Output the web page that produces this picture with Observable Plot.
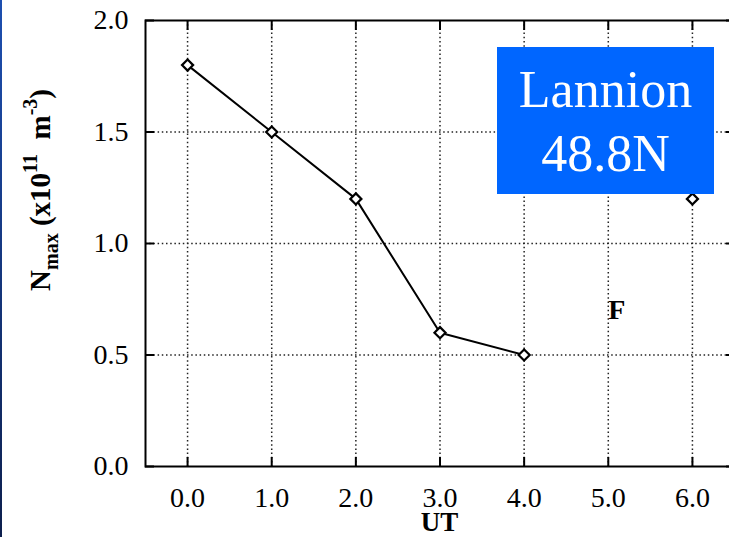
<!DOCTYPE html>
<html>
<head>
<meta charset="utf-8">
<script src="https://cdn.jsdelivr.net/npm/d3@7"></script>
<script src="https://cdn.jsdelivr.net/npm/@observablehq/plot@0.6"></script>
<style>
  html, body { margin: 0; padding: 0; background: #fff; }
  #wrap { position: relative; width: 729px; height: 537px; overflow: hidden; }
  #edge { position: absolute; left: 0; top: 0; width: 2px; height: 537px;
          background: linear-gradient(#1d4fb0, #0d1f4d); }
  #box { position: absolute; left: 497px; top: 47px; width: 217px; height: 147px;
         background: #0066ff; color: #fff; font-family: "Liberation Serif", "Times New Roman", serif;
         font-size: 52px; text-align: center; line-height: 64px; padding-top: 11px; box-sizing: border-box; }
</style>
</head>
<body>
<div id="wrap"><div id="edge"></div></div>
<script>
// Data
const utHours   = [0.0, 1.0, 2.0, 3.0, 4.0];
const nmaxLine  = [1.8, 1.5, 1.2, 0.6, 0.5];
const utSingle  = [6.0];
const nmaxSingle = [1.2];
const xTicks = [0, 1, 2, 3, 4, 5, 6];
const yTicks = [0, 0.5, 1.0, 1.5, 2.0];
const yGrid = [0.5, 1.0, 1.5];
const noteLabels = ["F"];
const noteUT = [5.0];
const noteN = [0.70];
const boxLines = ["Lannion", "48.8N"];
const xLabel = "UT";

const lineData = utHours.map((u, i) => ({ut: u, n: nmaxLine[i]}));
const singleData = utSingle.map((u, i) => ({ut: u, n: nmaxSingle[i]}));
const noteData = noteLabels.map((t, i) => ({ut: noteUT[i], n: noteN[i], t}));
const fmt = d3.format(".1f");
const serif = "'Liberation Serif', 'Times New Roman', serif";

const chart = Plot.plot({
  width: 729,
  height: 537,
  marginLeft: 145,
  marginRight: -5,
  marginTop: 20,
  marginBottom: 71,
  style: {fontFamily: serif, background: "transparent", color: "#000"},
  x: {domain: [-0.5, 6.5]},
  y: {domain: [0, 2]},
  marks: [
    Plot.gridX(xTicks, {stroke: "#222", strokeOpacity: 1, strokeWidth: 1.5, strokeDasharray: "1.5,2.7"}),
    Plot.gridY(yGrid, {stroke: "#222", strokeOpacity: 1, strokeWidth: 1.5, strokeDasharray: "1.5,2.7"}),
    Plot.frame({stroke: "#000", strokeWidth: 2}),
    // inward ticks on all four sides
    Plot.axisX(xTicks, {anchor: "bottom", tickSize: -9, strokeWidth: 2, tickFormat: () => "", label: null}),
    Plot.axisX(xTicks, {anchor: "top", tickSize: -9, strokeWidth: 2, tickFormat: () => "", label: null}),
    Plot.axisY(yTicks, {anchor: "left", tickSize: -9, strokeWidth: 2, tickFormat: () => "", label: null}),
    Plot.axisY(yTicks, {anchor: "right", tickSize: -9, strokeWidth: 2, tickFormat: () => "", label: null}),
    // tick labels
    Plot.axisX(xTicks, {anchor: "bottom", tickSize: 0, tickPadding: 21, tickFormat: fmt, fontSize: 28, label: null}),
    Plot.axisY(yTicks, {anchor: "left", tickSize: 0, tickPadding: 17, tickFormat: fmt, fontSize: 28, label: null}),
    Plot.line(lineData, {x: "ut", y: "n", stroke: "#000", strokeWidth: 2}),
    Plot.dot(lineData, {x: "ut", y: "n", symbol: "diamond2", r: 5, stroke: "#000", strokeWidth: 2.2, fill: "#fff"}),
    Plot.dot(singleData, {x: "ut", y: "n", symbol: "diamond2", r: 5, stroke: "#000", strokeWidth: 2.2, fill: "#fff"}),
    Plot.text(noteData, {x: "ut", y: "n", text: "t", textAnchor: "start", fontSize: 28, fontWeight: "bold", fill: "#000"})
  ]
});

const svg = d3.select(chart);
// y-axis label with sub/superscripts
const yl = svg.append("text")
  .attr("transform", "translate(50,190) rotate(-90)")
  .attr("text-anchor", "middle")
  .attr("fill", "#000")
  .style("font-family", serif)
  .style("font-weight", "bold")
  .style("font-size", "29px");
yl.append("tspan").text("N");
yl.append("tspan").attr("dy", 8).style("font-size", "20px").text("max");
yl.append("tspan").attr("dy", -8).text("\u00a0(x10");
yl.append("tspan").attr("dy", -13).style("font-size", "20px").text("11");
yl.append("tspan").attr("dy", 13).text("\u00a0\u00a0m");
yl.append("tspan").attr("dy", -13).style("font-size", "20px").text("-3");
yl.append("tspan").attr("dy", 13).text(")");

// x-axis label
const xs = chart.scale("x");
svg.append("text")
  .attr("x", xs.apply(3))
  .attr("y", 531)
  .attr("text-anchor", "middle")
  .attr("fill", "#000")
  .style("font-family", serif)
  .style("font-weight", "bold")
  .style("font-size", "27px")
  .text(xLabel);

const wrap = document.getElementById("wrap");
chart.style.position = "absolute";
chart.style.left = "0";
chart.style.top = "0";
wrap.insertBefore(chart, wrap.firstChild);

const box = document.createElement("div");
box.id = "box";
box.innerHTML = boxLines.join("<br>");
wrap.appendChild(box);
</script>
</body>
</html>
